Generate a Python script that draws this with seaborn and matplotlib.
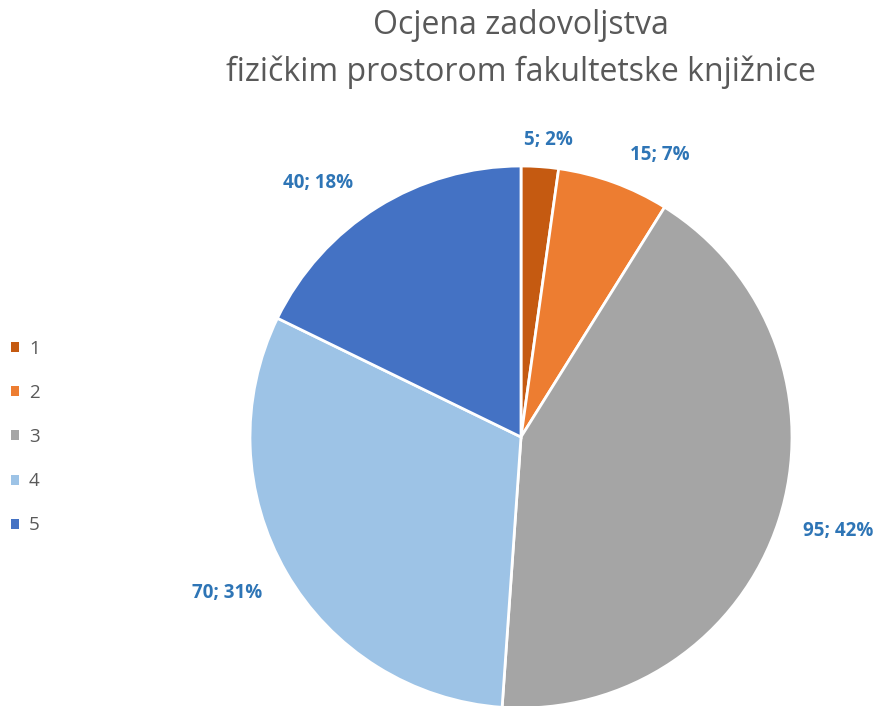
import numpy as np
import matplotlib
matplotlib.use("Agg")
import matplotlib.pyplot as plt
from matplotlib.patches import Patch
import seaborn as sns

categories = ["1", "2", "3", "4", "5"]
counts = [5, 15, 95, 70, 40]
percent_labels = ["2%", "7%", "42%", "31%", "18%"]
colors = ["#C55A11", "#ED7D31", "#A5A5A5", "#9DC3E6", "#4472C4"]
title_lines = ["Ocjena zadovoljstva", "fizičkim prostorom fakultetske knjižnice"]

sns.set_theme(style="white")
plt.rcParams['font.family'] = ['Open Sans', 'DejaVu Sans']

fig = plt.figure(figsize=(8.83, 7.06), dpi=100)
ax = fig.add_axes([250/883, (706-437-271)/706, 542/883, 542/706])
wedges, _ = ax.pie(counts, colors=colors, startangle=90, counterclock=False,
                   radius=1.0, wedgeprops=dict(edgecolor="white", linewidth=2))
ax.set_xlim(-1, 1)
ax.set_ylim(-1, 1)
ax.set_aspect("equal")
ax.axis("off")

dists = [1.10, 1.16, 1.22, 1.23, 1.20]
ang_off = [-1.2, -6.2, 1.5, -2.0, 6.6]
for w, c, p, d, o in zip(wedges, counts, percent_labels, dists, ang_off):
    ang = np.deg2rad((w.theta1 + w.theta2) / 2 + o)
    ax.text(d * np.cos(ang), d * np.sin(ang), f"{c}; {p}", ha="center", va="center",
            fontsize=13.5, fontweight="bold", color="#2E75B6", clip_on=False)

fig.text(521/883, 1 - 26/706, title_lines[0], ha="center", va="center", fontsize=23,
         color="#595959")
fig.text(521/883, 1 - 72/706, title_lines[1], ha="center", va="center", fontsize=23,
         color="#595959")

handles = [Patch(facecolor=c, edgecolor="none") for c in colors]
leg = fig.legend(handles, categories, loc="center left", bbox_to_anchor=(11/883, 1 - 437/706),
                 frameon=False, fontsize=13.5, labelcolor="#595959", handlelength=0.45,
                 handleheight=0.45, handletextpad=0.5, labelspacing=1.4,
                 borderpad=0, borderaxespad=0)

fig.savefig("out.png", dpi=100)
